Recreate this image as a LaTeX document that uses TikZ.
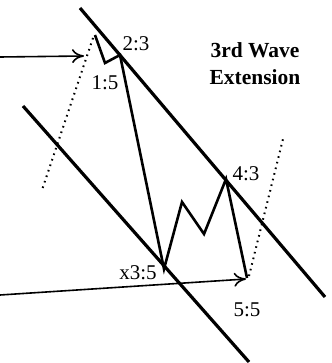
\documentclass[tikz,border=0pt]{standalone}
\usepackage{fontspec}
\setmainfont{Liberation Serif}
\usetikzlibrary{arrows.meta}
\begin{document}
\begin{tikzpicture}[x=1pt,y=-1pt,
  chan/.style={line width=3.2pt},
  wave/.style={line width=2.6pt,line join=miter},
  guide/.style={line width=2pt,dash pattern=on 1.6pt off 4.2pt},
  pointer/.style={line width=1.6pt,-{Computer Modern Rightarrow[length=12pt,width=14pt]}},
  lab/.style={font=\fontsize{21}{21}\selectfont,inner sep=0pt},
  ttl/.style={font=\bfseries\fontsize{21.5}{27}\selectfont,align=center,inner sep=0pt}]
\useasboundingbox (0,0) rectangle (331,363);
% channel lines
\coordinate (ua) at (80,8);
\coordinate (ub) at (325,297);
\coordinate (la) at (23,106);
\coordinate (lb) at (249,362);
\draw[chan] (ua) -- (ub);
\draw[chan] (la) -- (lb);
% wave points
\coordinate (w0) at (95,35);
\coordinate (w1) at (105,63);
\coordinate (w2) at (120,55);
\coordinate (w3) at (164,269);
\coordinate (w3a) at (182,202);
\coordinate (w3b) at (204,234);
\coordinate (w4) at (226,179);
\coordinate (w5) at (247,278);
\draw[wave] (w0) -- (w1) -- (w2) -- (w3) -- (w3a) -- (w3b) -- (w4) -- (w5);
% dotted guides
\coordinate (d1a) at (93,38);
\coordinate (d1b) at (42,190);
\coordinate (d2a) at (249,276);
\coordinate (d2b) at (283,139);
\draw[guide] (d1a) -- (d1b);
\draw[guide] (d2a) -- (d2b);
% pointers
\coordinate (p1s) at (0,57);
\coordinate (p1e) at (84,56);
\coordinate (p2s) at (0,295);
\coordinate (p2e) at (246,279);
\draw[pointer] (p1s) -- (p1e);
\draw[pointer] (p2s) -- (p2e);
% labels
\node[lab] (l23) at (136,44) {2:3};
\node[lab] (l15) at (105,83) {1:5};
\node[lab] (l43) at (246,174) {4:3};
\node[lab] (l35) at (138,273) {x3:5};
\node[lab] (l55) at (247,310) {5:5};
\node[ttl] (title) at (255,64) {3rd Wave\\Extension};
\end{tikzpicture}
\end{document}
